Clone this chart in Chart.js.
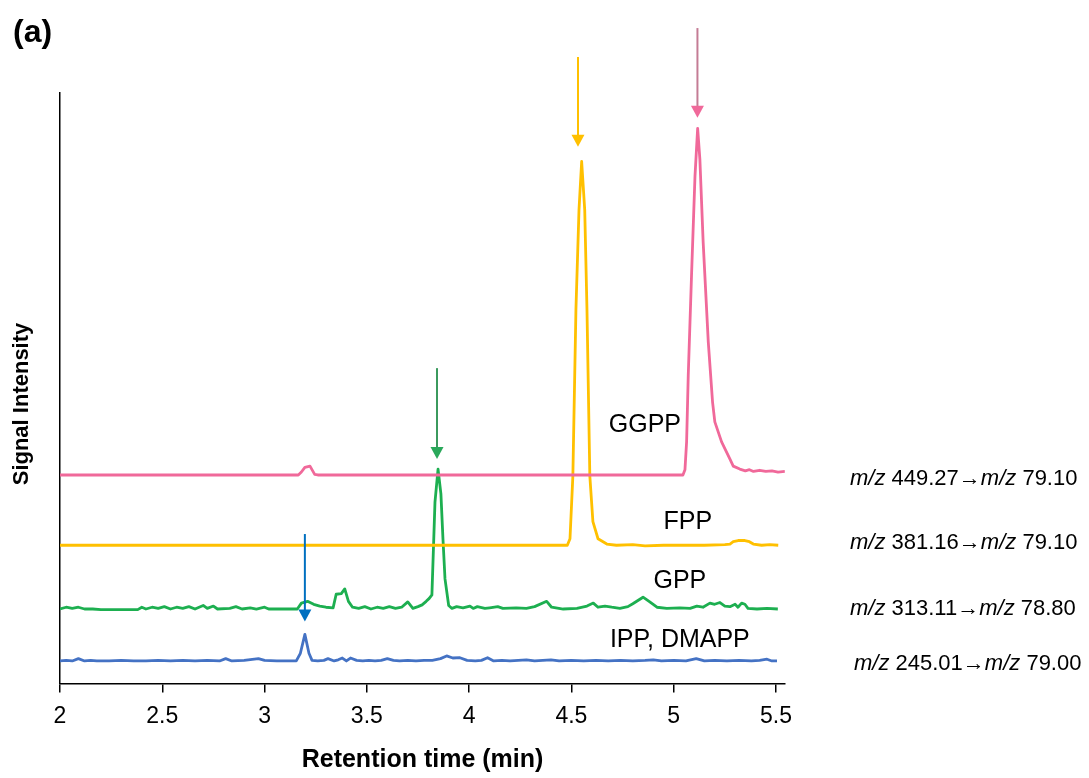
<!DOCTYPE html>
<html>
<head>
<meta charset="utf-8">
<script src="https://cdn.jsdelivr.net/npm/chart.js@4.4.0/dist/chart.umd.min.js"></script>
<style>
  html, body { margin: 0; padding: 0; background: #fff; }
  #wrap { width: 1089px; height: 778px; position: relative; }
</style>
</head>
<body>
<div id="wrap"><canvas id="chromChart" width="1089" height="778"></canvas></div>
<script>
// retention time (min) / signal for each MRM trace, traces offset so they stack
const ggppTime   = [2.00, 3.165, 3.18, 3.197, 3.222, 3.245, 3.26, 5.045, 5.055, 5.063, 5.071, 5.087, 5.104, 5.117, 5.128, 5.144, 5.169, 5.190, 5.201, 5.234, 5.275, 5.291, 5.323, 5.35, 5.37, 5.39, 5.42, 5.45, 5.48, 5.51, 5.543];
const ggppSignal = [35.3, 35.3, 35.8, 36.6, 36.8, 35.4, 35.3, 35.3, 36.2, 40.9, 52.1, 69.0, 85.9, 94.0, 88.7, 74.7, 57.8, 47.6, 44.3, 40.9, 38.0, 36.8, 36.3, 36.0, 36.2, 35.9, 36.1, 35.9, 36.0, 35.8, 35.9];

const fppTime   = [2.00, 4.48, 4.493, 4.507, 4.522, 4.537, 4.550, 4.565, 4.576, 4.590, 4.605, 4.630, 4.673, 4.72, 4.80, 4.86, 4.95, 5.05, 5.15, 5.25, 5.275, 5.291, 5.315, 5.348, 5.37, 5.389, 5.43, 5.47, 5.511];
const fppSignal = [23.4, 23.4, 24.5, 35.1, 63.3, 80.2, 88.4, 80.2, 63.3, 35.1, 27.4, 24.5, 23.6, 23.4, 23.5, 23.3, 23.4, 23.4, 23.4, 23.5, 23.6, 24.0, 24.2, 24.2, 24.0, 23.6, 23.4, 23.5, 23.4];

const gppTime = [2.00, 2.03, 2.06, 2.09, 2.12, 2.16, 2.20, 2.38, 2.40, 2.42, 2.45, 2.48, 2.51, 2.54, 2.57, 2.60, 2.63, 2.66, 2.70, 2.72, 2.75, 2.77, 2.83, 2.86, 2.89, 2.93, 2.96, 3.00, 3.02,
  3.16, 3.18, 3.21, 3.24, 3.27, 3.30, 3.335, 3.35, 3.375, 3.392, 3.41, 3.43, 3.46, 3.49, 3.52, 3.55, 3.58, 3.61, 3.64, 3.67, 3.70, 3.725, 3.75, 3.77, 3.79, 3.805, 3.818,
  3.833, 3.848, 3.862, 3.872, 3.882, 3.90, 3.916, 3.939, 3.97, 4.004, 4.02, 4.04, 4.077, 4.10, 4.14, 4.165, 4.23, 4.28, 4.32, 4.379, 4.403, 4.46, 4.527, 4.576, 4.607,
  4.63, 4.664, 4.697, 4.737, 4.776, 4.80, 4.85, 4.883, 4.918, 4.966, 5.03, 5.08, 5.113, 5.143, 5.177, 5.20, 5.226, 5.25, 5.275, 5.30, 5.314, 5.332, 5.348, 5.363, 5.407, 5.456, 5.509];
const gppSignal = [12.6, 12.9, 12.7, 12.9, 12.6, 12.6, 12.5, 12.5, 12.9, 12.6, 12.9, 12.7, 13.0, 12.6, 12.9, 12.7, 13.0, 12.6, 13.2, 12.7, 13.1, 12.6, 12.7, 13.0, 12.6, 12.8, 12.6, 12.9, 12.6,
  12.6, 13.6, 13.9, 13.4, 13.1, 12.9, 12.8, 15.1, 15.2, 16.0, 13.9, 12.9, 12.7, 13.0, 12.6, 12.9, 12.7, 13.0, 12.7, 12.9, 13.8, 12.7, 13.0, 13.3, 13.9, 14.4, 15.0,
  30.7, 36.3, 32.1, 24.5, 17.7, 13.2, 12.7, 13.0, 12.8, 13.1, 12.7, 13.0, 12.7, 12.8, 13.0, 12.7, 12.8, 12.7, 13.0, 13.9, 12.9, 12.6, 12.7, 13.1, 13.6,
  12.9, 13.1, 12.9, 12.7, 13.0, 13.5, 14.6, 13.8, 12.9, 12.7, 12.8, 12.7, 13.1, 12.9, 13.6, 13.4, 13.7, 13.1, 13.0, 13.4, 12.9, 13.6, 13.4, 12.7, 12.6, 12.7, 12.6];

const ippTime = [2.00, 2.03, 2.06, 2.09, 2.12, 2.15, 2.18, 2.24, 2.30, 2.36, 2.42, 2.48, 2.54, 2.60, 2.66, 2.72, 2.78, 2.81, 2.84, 2.90, 2.97, 3.00, 3.06, 3.12, 3.155,
  3.175, 3.197, 3.217, 3.232, 3.26, 3.29, 3.31, 3.34, 3.36, 3.38, 3.40, 3.42, 3.45, 3.48, 3.51, 3.54, 3.57, 3.60, 3.63, 3.66, 3.70, 3.74, 3.78, 3.82, 3.86, 3.89,
  3.92, 3.955, 3.99, 4.03, 4.06, 4.09, 4.12, 4.16, 4.20, 4.24, 4.28, 4.32, 4.36, 4.40, 4.44, 4.50, 4.56, 4.62, 4.68, 4.74, 4.80, 4.86, 4.90, 4.94, 5.00, 5.06, 5.11,
  5.15, 5.20, 5.26, 5.32, 5.38, 5.42, 5.456, 5.48, 5.505];
const ippSignal = [3.8, 3.9, 3.8, 4.2, 3.8, 3.9, 3.8, 3.8, 3.9, 3.8, 3.8, 3.9, 3.8, 3.9, 3.8, 3.9, 3.8, 4.2, 3.8, 3.9, 4.2, 3.9, 3.8, 3.8, 3.8,
  5.1, 8.3, 5.1, 3.9, 3.8, 3.9, 4.2, 3.8, 4.0, 4.3, 3.8, 4.3, 3.9, 3.8, 3.9, 3.8, 3.9, 4.2, 3.9, 3.8, 3.9, 3.8, 3.9, 3.9, 4.2, 4.65,
  4.3, 4.35, 3.9, 3.8, 3.9, 4.35, 3.8, 3.9, 3.8, 3.9, 4.0, 3.8, 3.9, 4.0, 3.8, 3.9, 3.8, 3.9, 3.8, 3.9, 3.8, 3.9, 4.0, 3.8, 3.9, 3.8, 4.2,
  3.8, 3.9, 3.8, 3.9, 3.8, 3.9, 4.1, 3.8, 3.8];

const xTicks = [2, 2.5, 3, 3.5, 4, 4.5, 5, 5.5];

// compound names, MRM transitions and peak markers
const compoundNames = ['GGPP', 'FPP', 'GPP', 'IPP, DMAPP'];
const transitions = [['449.27', '79.10'], ['381.16', '79.10'], ['313.11', '78.80'], ['245.01', '79.00']];
const peakTimes = [5.116, 4.532, 3.843, 3.197];

const colors = ['#F0699A', '#FFC000', '#1DAF50', '#4472C4'];
const arrowLineColors = ['#C47C95', '#FFC000', '#3B9A5E', '#0070C0'];
const arrowHeadColors = ['#F0699A', '#FFC000', '#2AA85A', '#0070C0'];

// where labels and arrows sit, in axis units
const nameSpots = [[4.859, 43.7], [5.069, 27.4], [5.030, 17.4], [5.030, 7.4]];
const transitionY = [34.7, 23.8, 12.6, 3.3];
const arrowTop = [111.0, 106.1, 53.4, 25.3];
const arrowTip = [95.8, 90.9, 38.0, 10.5];

const FONT = '"Liberation Sans", Arial, sans-serif';

function toPoints(ts, vs) {
  return ts.map((t, i) => ({x: t, y: vs[i]}));
}

const traces = [
  toPoints(ggppTime, ggppSignal),
  toPoints(fppTime, fppSignal),
  toPoints(gppTime, gppSignal),
  toPoints(ippTime, ippSignal)
];

const annotations = {
  id: 'annotations',
  afterDatasetsDraw(chart) {
    const ctx = chart.ctx;
    const xs = chart.scales.x, ys = chart.scales.y;
    const area = chart.chartArea;
    ctx.save();

    // arrows pointing at each peak
    peakTimes.forEach((t, i) => {
      const x = xs.getPixelForValue(t);
      const top = ys.getPixelForValue(arrowTop[i]);
      const tip = ys.getPixelForValue(arrowTip[i]);
      ctx.strokeStyle = arrowLineColors[i];
      ctx.lineWidth = 2;
      ctx.beginPath();
      ctx.moveTo(x, top);
      ctx.lineTo(x, tip - 10);
      ctx.stroke();
      ctx.fillStyle = arrowHeadColors[i];
      ctx.beginPath();
      ctx.moveTo(x - 6.5, tip - 12);
      ctx.lineTo(x + 6.5, tip - 12);
      ctx.lineTo(x, tip);
      ctx.closePath();
      ctx.fill();
    });

    // compound names
    ctx.fillStyle = '#000';
    ctx.font = '25px ' + FONT;
    ctx.textAlign = 'center';
    ctx.textBaseline = 'middle';
    compoundNames.forEach((name, i) => {
      ctx.fillText(name, xs.getPixelForValue(nameSpots[i][0]), ys.getPixelForValue(nameSpots[i][1]));
    });

    // transitions on the right, m/z in italics
    ctx.textAlign = 'left';
    transitions.forEach((tr, i) => {
      let x = area.right + 65 + (i === 3 ? 4 : 0);
      const y = ys.getPixelForValue(transitionY[i]);
      const parts = [
        ['italic 22px ', 'm/z'],
        ['22px ', ' ' + tr[0] + '\u2192'],
        ['italic 22px ', 'm/z'],
        ['22px ', ' ' + tr[1]]
      ];
      parts.forEach(p => {
        ctx.font = p[0] + FONT;
        ctx.fillText(p[1], x, y);
        x += ctx.measureText(p[1]).width;
      });
    });

    // y axis title
    ctx.save();
    ctx.translate(22, 404);
    ctx.rotate(-Math.PI / 2);
    ctx.textAlign = 'center';
    ctx.font = 'bold 22px ' + FONT;
    ctx.fillText('Signal Intensity', 0, 0);
    ctx.restore();

    // panel letter
    ctx.font = 'bold 32px ' + FONT;
    ctx.textAlign = 'left';
    ctx.fillText('(a)', 13, 33);
    ctx.restore();
  }
};

const chart = new Chart(document.getElementById('chromChart'), {
  type: 'scatter',
  data: {
    datasets: traces.map((pts, i) => ({
      label: compoundNames[i],
      data: pts,
      showLine: true,
      borderColor: colors[i],
      borderWidth: 2.8,
      borderJoinStyle: 'round',
      pointRadius: 0,
      tension: 0
    }))
  },
  options: {
    responsive: false,
    animation: false,
    layout: {padding: {left: 60, right: 304, top: 93, bottom: 0}},
    plugins: {legend: {display: false}, tooltip: {enabled: false}},
    scales: {
      x: {
        type: 'linear',
        min: 2,
        max: 5.544,
        afterBuildTicks: scale => { scale.ticks = xTicks.map(v => ({value: v})); },
        ticks: {
          color: '#000',
          font: {family: FONT, size: 23},
          padding: 10,
          maxRotation: 0,
          autoSkip: false,
          callback: v => String(v)
        },
        grid: {display: true, drawOnChartArea: false, drawTicks: true, tickLength: 9, color: '#000', lineWidth: 1.5},
        border: {display: true, color: '#000', width: 1.5},
        title: {
          display: true,
          text: 'Retention time (min)',
          color: '#000',
          font: {family: FONT, size: 25, weight: 'bold'},
          padding: {top: 5, bottom: 3}
        }
      },
      y: {
        min: 0,
        max: 100,
        ticks: {display: false},
        grid: {display: false, drawTicks: false},
        border: {display: true, color: '#000', width: 1.5}
      }
    }
  },
  plugins: [annotations]
});
</script>
</body>
</html>
